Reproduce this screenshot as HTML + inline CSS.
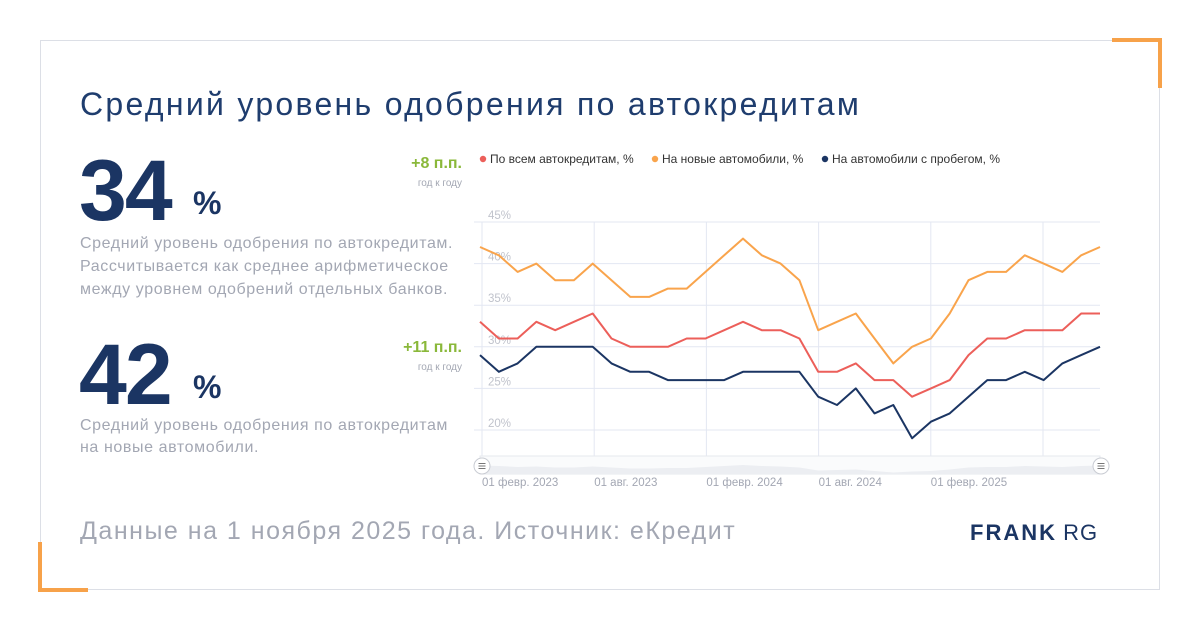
<!DOCTYPE html>
<html><head><meta charset="utf-8"><style>
body{margin:0;width:1200px;height:630px;background:#fff;position:relative;overflow:hidden;font-family:"Liberation Sans",sans-serif}
.card{position:absolute;left:40px;top:40px;width:1118px;height:548px;border:1px solid #dcdfe6}
.c{position:absolute;background:#f7a24a}
.t{position:absolute;white-space:nowrap}
</style></head><body>
<div class="card"></div>
<div class="c" style="left:1112px;top:38px;width:50px;height:4px"></div>
<div class="c" style="left:1158px;top:38px;width:4px;height:50px"></div>
<div class="c" style="left:38px;top:542px;width:4px;height:50px"></div>
<div class="c" style="left:38px;top:588px;width:50px;height:4px"></div>
<div class="t" style="left:80px;top:86px;font-size:32px;color:#1f3d6e;letter-spacing:2.3px">Средний уровень одобрения по автокредитам</div>
<div class="t" style="left:79px;top:142px;font-size:86px;font-weight:bold;color:#1b3563;letter-spacing:-2px">34</div>
<div class="t" style="left:193px;top:185px;font-size:32px;font-weight:bold;color:#1b3563">%</div>
<div class="t" style="left:80px;top:232px;font-size:16px;line-height:23px;color:#a3a7b3;letter-spacing:0.6px">Средний уровень одобрения по автокредитам.<br>Рассчитывается как среднее арифметическое<br>между уровнем одобрений отдельных банков.</div>
<div class="t" style="left:79px;top:326px;font-size:86px;font-weight:bold;color:#1b3563;letter-spacing:-2px">42</div>
<div class="t" style="left:193px;top:369px;font-size:32px;font-weight:bold;color:#1b3563">%</div>
<div class="t" style="left:80px;top:415px;font-size:16px;line-height:22px;color:#a3a7b3;letter-spacing:0.6px">Средний уровень одобрения по автокредитам<br>на новые автомобили.</div>
<div class="t" style="right:738px;top:155px;font-size:16px;font-weight:bold;color:#8ab83a">+8 п.п.</div>
<div class="t" style="right:738px;top:178px;font-size:10px;color:#a3a7b3">год к году</div>
<div class="t" style="right:738px;top:339px;font-size:16px;font-weight:bold;color:#8ab83a">+11 п.п.</div>
<div class="t" style="right:738px;top:362px;font-size:10px;color:#a3a7b3">год к году</div>
<div class="t" style="left:80px;top:517px;font-size:25px;color:#a3a7b3;letter-spacing:1.5px">Данные на 1 ноября 2025 года. Источник: еКредит</div>
<div class="t" style="left:970px;top:520px;font-size:22px;color:#1b3563"><b style="letter-spacing:2px">FRANK</b> <span style="letter-spacing:1px">RG</span></div>
<svg id="ch" width="1200" height="630" style="position:absolute;left:0;top:0" font-family="Liberation Sans, sans-serif"></svg>
<script>
var O=[42,41,39,40,38,38,40,38,36,36,37,37,39,41,43,41,40,38,32,33,34,31,28,30,31,34,38,39,39,41,40,39,41,42];
var R=[33,31,31,33,32,33,34,31,30,30,30,31,31,32,33,32,32,31,27,27,28,26,26,24,25,26,29,31,31,32,32,32,34,34];
var N=[29,27,28,30,30,30,30,28,27,27,26,26,26,26,27,27,27,27,24,23,25,22,23,19,21,22,24,26,26,27,26,28,29,30];
var x0=480,x1=1100,st=(x1-x0)/33;function Y(v){return 222+(45-v)*8.32}
var s='';
[45,40,35,30,25,20].forEach(function(v){s+='<line x1="474" x2="1100" y1="'+Y(v)+'" y2="'+Y(v)+'" stroke="#e3e7f2"/><text x="488" y="'+(Y(v)-3)+'" font-size="11.5" fill="#c0c3cc">'+v+'%</text>'});
var lbl=['01 февр. 2023','01 авг. 2023','01 февр. 2024','01 авг. 2024','01 февр. 2025',''];
for(var i=0;i<6;i++){var x=482+i*112.2;s+='<line x1="'+x+'" x2="'+x+'" y1="222" y2="472" stroke="#e3e7f2"/>';s+='<text x="'+x+'" y="486" font-size="11.5" fill="#a3a7b3">'+lbl[i]+'</text>'}
s+='<rect x="480" y="456" width="620" height="18" fill="#fafbfc" stroke="#e6e8ee"/>';
var a='M480 474 ';O.forEach(function(v,i){a+='L'+(x0+i*st)+' '+(474-(v-25)*0.5)+' '});a+='L1100 474Z';s+='<path d="'+a+'" fill="#eceef2"/>';
function P(d,c){var p='';d.forEach(function(v,i){p+=(i?'L':'M')+(x0+i*st).toFixed(1)+' '+Y(v).toFixed(1)});return '<path d="'+p+'" fill="none" stroke="'+c+'" stroke-width="2" stroke-linejoin="round"/>'}
s+=P(O,'#f9a44c')+P(R,'#ec5f5a')+P(N,'#1b3563');
[482,1101].forEach(function(x){s+='<circle cx="'+x+'" cy="466" r="8" fill="#fff" stroke="#c9ccd3"/><path d="M'+(x-3.5)+' 463.5h7M'+(x-3.5)+' 466h7M'+(x-3.5)+' 468.5h7" stroke="#777" stroke-width="1"/>'});
var L=[['#ec5f5a','По всем автокредитам, %',480],['#f9a44c','На новые автомобили, %',652],['#1b3563','На автомобили с пробегом, %',822]];
L.forEach(function(l){s+='<circle cx="'+(l[2]+3)+'" cy="159" r="3.2" fill="'+l[0]+'"/><text x="'+(l[2]+10)+'" y="163" font-size="12" fill="#333">'+l[1]+'</text>'});
document.getElementById('ch').innerHTML=s;
</script>
</body></html>
